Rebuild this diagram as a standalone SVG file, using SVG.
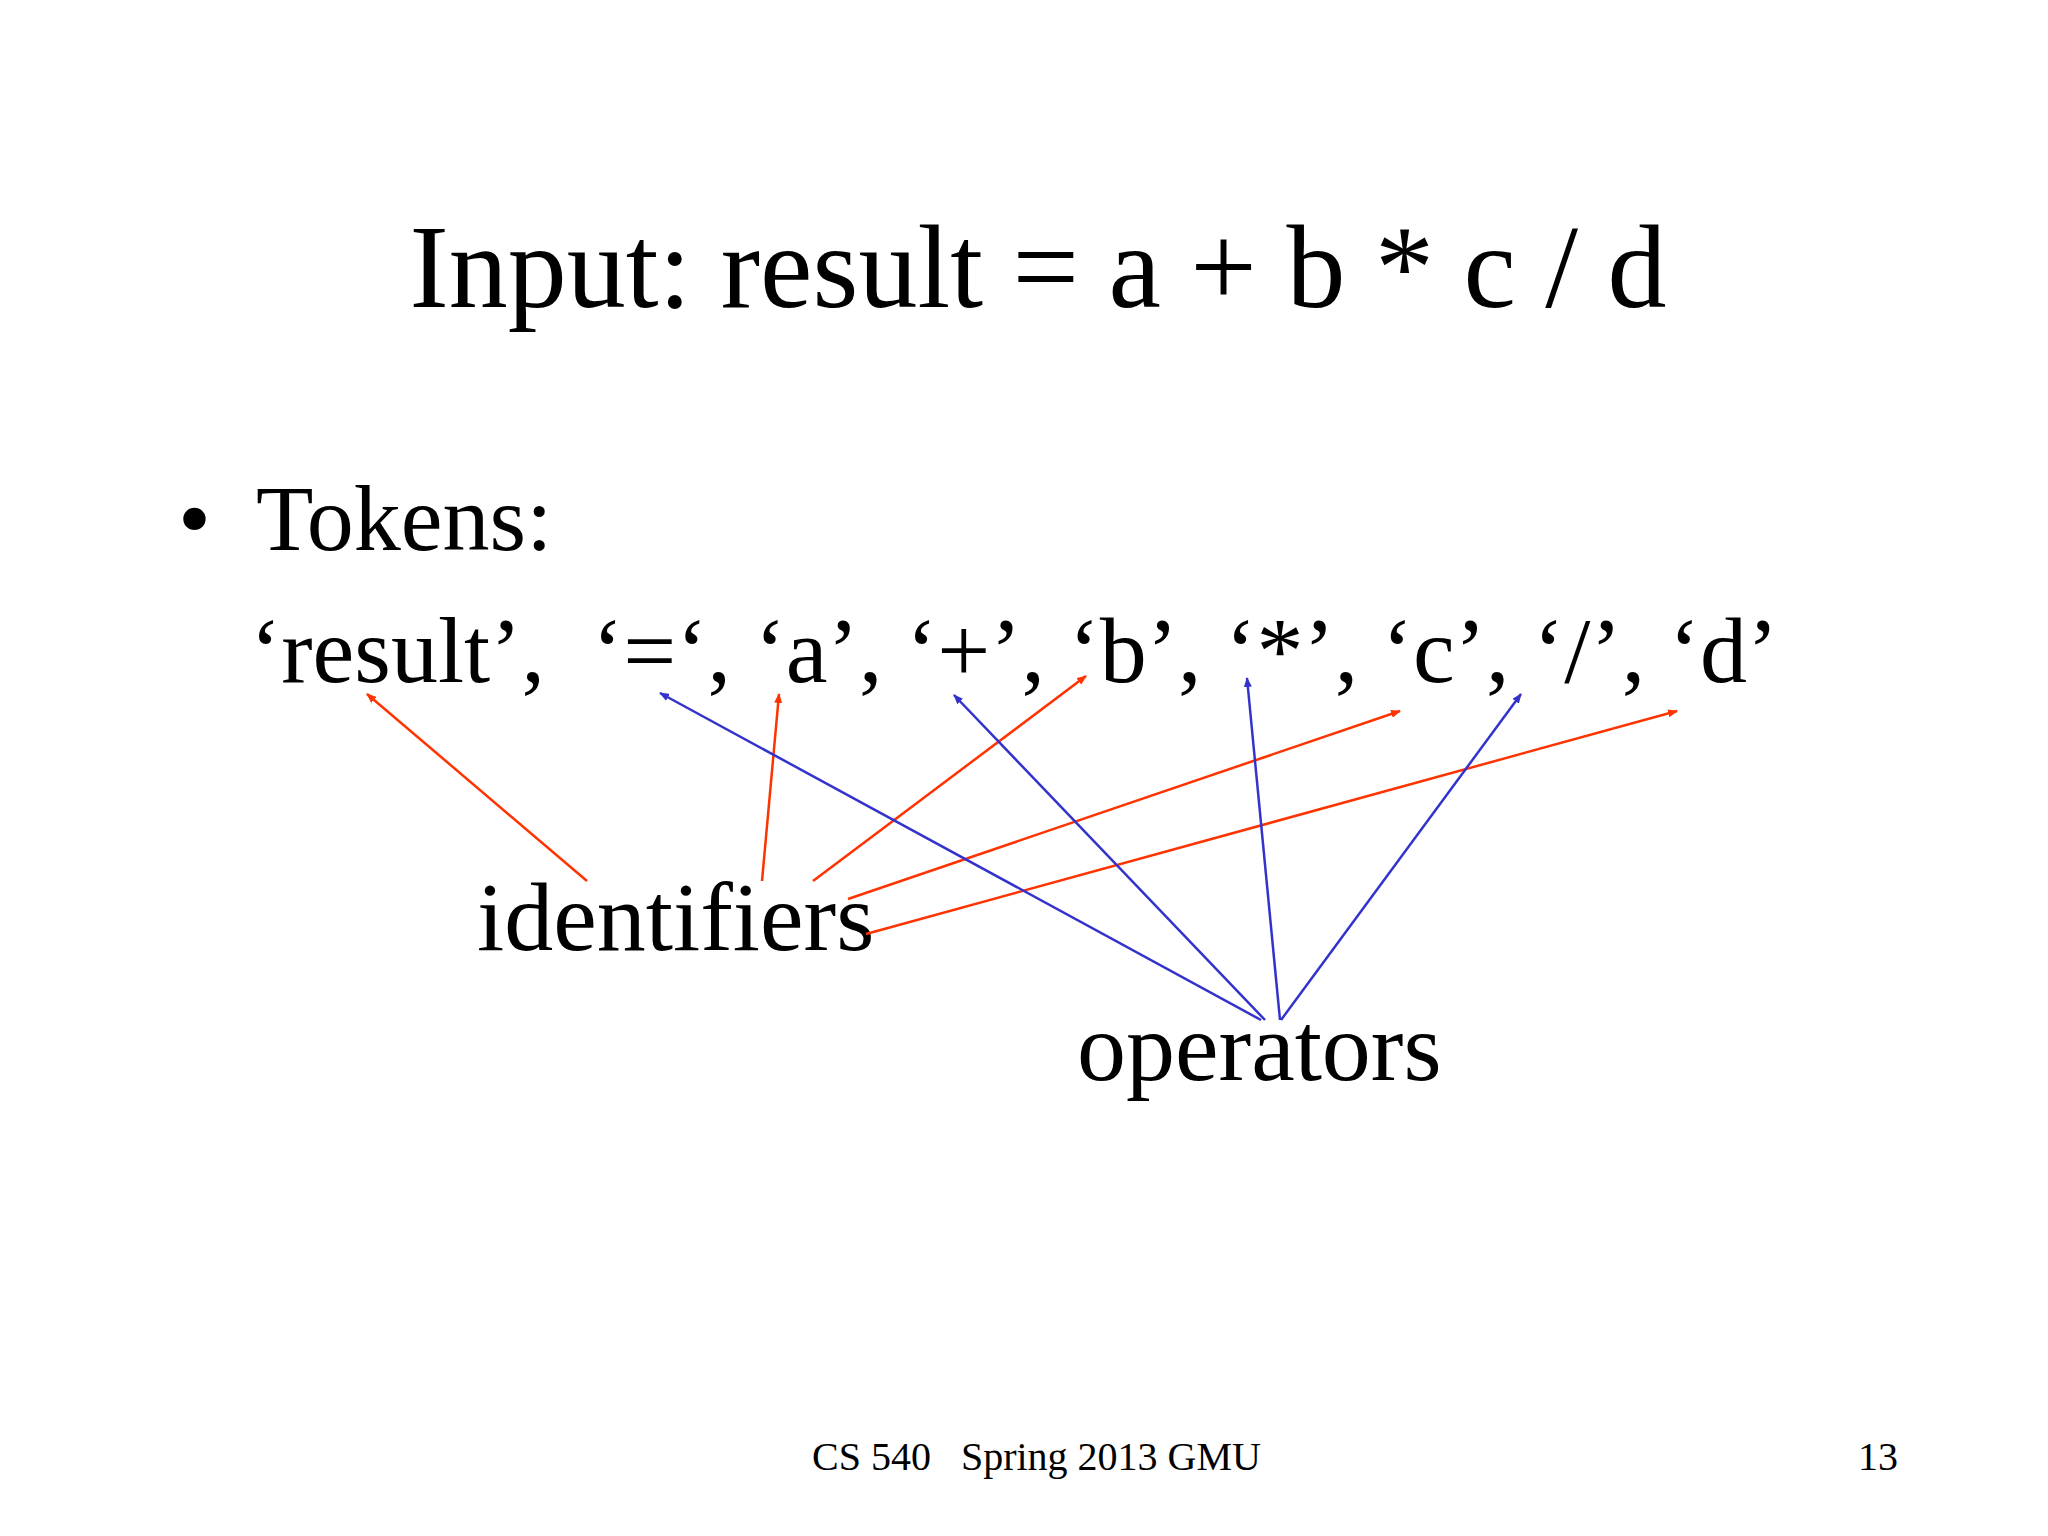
<svg xmlns="http://www.w3.org/2000/svg" width="2048" height="1536" viewBox="0 0 2048 1536">
<style>
text{font-family:"Liberation Serif","Times New Roman",serif;fill:#000}
.r{stroke:#ff3300;stroke-width:2.5;fill:none;marker-end:url(#mr)}
.b{stroke:#3333cc;stroke-width:2.5;fill:none;marker-end:url(#mb)}
</style>
<defs>
<marker id="mr" markerWidth="10" markerHeight="8" refX="9" refY="4" orient="auto" markerUnits="userSpaceOnUse" viewBox="0 0 10 8"><path d="M0,0L10,4L0,8z" fill="#ff3300"/></marker>
<marker id="mb" markerWidth="10" markerHeight="8" refX="9" refY="4" orient="auto" markerUnits="userSpaceOnUse" viewBox="0 0 10 8"><path d="M0,0L10,4L0,8z" fill="#3333cc"/></marker>
</defs>
<rect width="2048" height="1536" fill="#fff"/>
<g id="title"><text x="1038" y="307" font-size="118" text-anchor="middle">Input: result = a + b * c / d</text></g>
<g id="bullet"><text x="178" y="550" font-size="94">•</text><text x="256" y="550" font-size="94">Tokens:</text></g>
<g id="tokens"><text x="250" y="682" font-size="94" xml:space="preserve">‘result’,  ‘=‘, ‘a’, ‘+’, ‘b’, ‘*’, ‘c’, ‘/’, ‘d’</text></g>
<g id="identifiers"><text x="477" y="950" font-size="98">identifiers</text></g>
<g id="operators"><text x="1077" y="1080" font-size="98">operators</text></g>
<g id="connectors">
<line class="r" x1="587" y1="881" x2="367" y2="694"/>
<line class="r" x1="762" y1="881" x2="779" y2="694"/>
<line class="r" x1="813" y1="881" x2="1086" y2="676"/>
<line class="r" x1="848" y1="899" x2="1400" y2="711"/>
<line class="r" x1="866" y1="934" x2="1677" y2="711"/>
<line class="b" x1="1261" y1="1020" x2="660" y2="693"/>
<line class="b" x1="1265" y1="1020" x2="954" y2="695"/>
<line class="b" x1="1280" y1="1020" x2="1247" y2="678"/>
<line class="b" x1="1281" y1="1020" x2="1521" y2="694"/>
</g>
<g id="footer"><text x="812" y="1470" font-size="40" xml:space="preserve">CS 540   Spring 2013 GMU</text><text x="1898" y="1470" font-size="40" text-anchor="end">13</text></g>
</svg>
